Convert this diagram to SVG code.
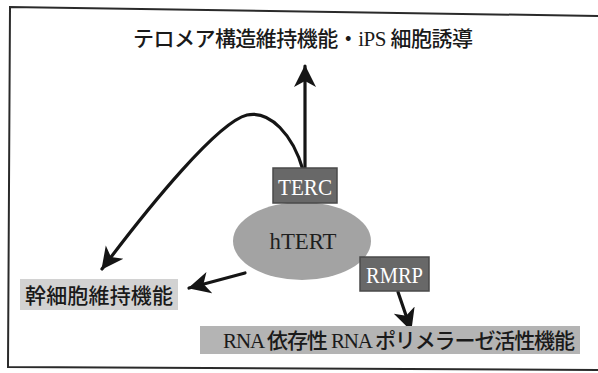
<svg xmlns="http://www.w3.org/2000/svg" width="598" height="373" viewBox="0 0 598 373">
<defs>
<style>
.jp{font-family:"Liberation Serif","Noto Sans CJK JP",serif;font-size:21px;font-weight:500;fill:#1a1a1a}
.box{fill:#686868;stroke:#4a4a4a;stroke-width:1.5}
.lbl{font-family:"Liberation Serif",serif;font-size:23px;fill:#ffffff;text-anchor:middle}
.conn{fill:none;stroke:#151515;stroke-width:3.2;stroke-linecap:round}
</style>
<marker id="ah" markerUnits="userSpaceOnUse" markerWidth="24" markerHeight="24" refX="21" refY="11" orient="auto" viewBox="0 0 24 22">
<path d="M0,0 L22,11 L0,22 L6,11 z" fill="#151515"/>
</marker>
</defs>
<rect width="598" height="373" fill="#ffffff"/>
<polyline points="598,16 10,7 8,367 598,370" fill="none" stroke="#2a2a2a" stroke-width="2"/>
<g id="connectors">
<path class="conn" d="M305,168 L305,66" marker-end="url(#ah)"/>
<path class="conn" d="M303,170 C293,135 270,110 247,115 C218,122 150,205 102,269" marker-end="url(#ah)"/>
<path class="conn" d="M245,273 L189,288" marker-end="url(#ah)"/>
<path class="conn" d="M398,292 L411,330" marker-end="url(#ah)"/>
</g>
<g id="top-label">
<text class="jp" x="133" y="46" textLength="340" lengthAdjust="spacing">テロメア構造維持機能・iPS 細胞誘導</text>
</g>
<g id="htert">
<ellipse cx="302" cy="241" rx="69" ry="39" fill="#a3a3a3"/>
<text x="303" y="249" font-family="Liberation Serif,serif" font-size="24" fill="#1e1e1e" text-anchor="middle" textLength="67" lengthAdjust="spacingAndGlyphs">hTERT</text>
</g>
<g id="terc">
<rect class="box" x="273" y="168" width="64" height="35"/>
<text class="lbl" x="305" y="195" textLength="54" lengthAdjust="spacingAndGlyphs">TERC</text>
</g>
<g id="rmrp">
<rect class="box" x="360" y="257" width="69" height="34"/>
<text class="lbl" x="394.5" y="283" textLength="57" lengthAdjust="spacingAndGlyphs">RMRP</text>
</g>
<g id="stem-label">
<rect x="20" y="279" width="158" height="31" fill="#d2d2d2"/>
<text class="jp" x="25" y="303" textLength="148" lengthAdjust="spacing">幹細胞維持機能</text>
</g>
<g id="rna-label">
<rect x="200" y="326" width="380" height="28" fill="#b4b4b4"/>
<text class="jp" x="223" y="348" textLength="352" lengthAdjust="spacing">RNA 依存性 RNA ポリメラーゼ活性機能</text>
</g>
</svg>
